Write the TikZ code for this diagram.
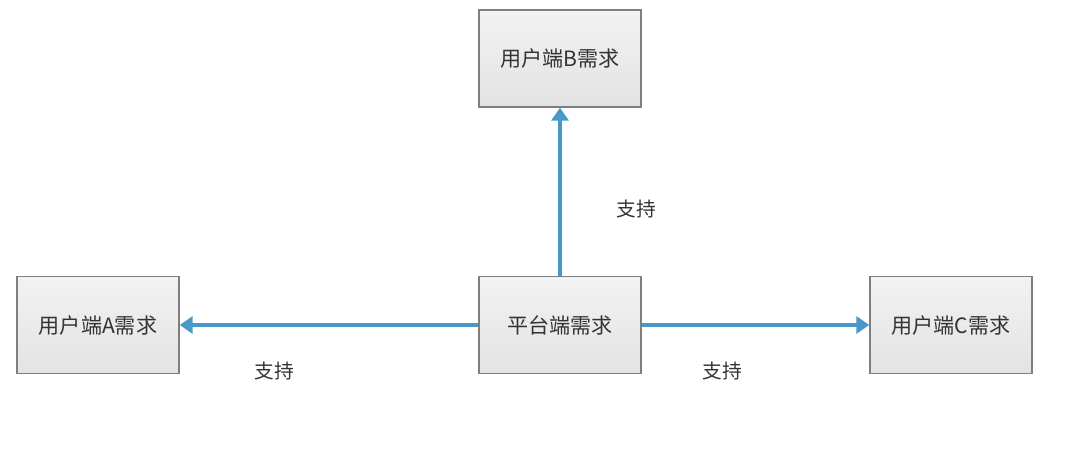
\documentclass[tikz,border=0pt]{standalone}
\usepackage{fontspec}
\newfontfamily\cjk{Noto Sans CJK SC}
\usetikzlibrary{arrows.meta}
\definecolor{linkblue}{HTML}{4A98CA}
\definecolor{boxline}{HTML}{7F7F7F}
\definecolor{boxtop}{HTML}{F2F2F2}
\definecolor{boxbottom}{HTML}{E3E3E3}
\definecolor{txt}{HTML}{333333}
\begin{document}
\begin{tikzpicture}[x=0.025cm, y=-0.025cm,
  req node/.style={rectangle,draw=boxline,line width=1pt,top color=boxtop,bottom color=boxbottom,
    minimum width=4.05cm,minimum height=2.425cm,inner sep=0pt,font=\cjk\fontsize{15}{17}\selectfont,text=txt},
  link/.style={draw=linkblue,line width=2.6pt,-{Triangle[length=0.32cm,width=0.42cm]}},
  link label/.style={font=\cjk\fontsize{14}{16}\selectfont,text=txt}]
\useasboundingbox (0,0) rectangle (1080,472);
\begin{scope}
\node [req node](userb) at (560,58.5) {用户端B需求};
\node [req node](usera) at (98,325) {用户端A需求};
\node [req node](plat) at (560,325) {平台端需求};
\node [req node](userc) at (951,325) {用户端C需求};
\end{scope}
\path 
    (plat) edge [link] (userb)
    (plat) edge [link] (usera)
    (plat) edge [link] (userc)
         ;
\node [link label](lb) at (636,209) {支持};
\node [link label](la) at (274,371) {支持};
\node [link label](lc) at (722,371) {支持};
\end{tikzpicture}
\end{document}
